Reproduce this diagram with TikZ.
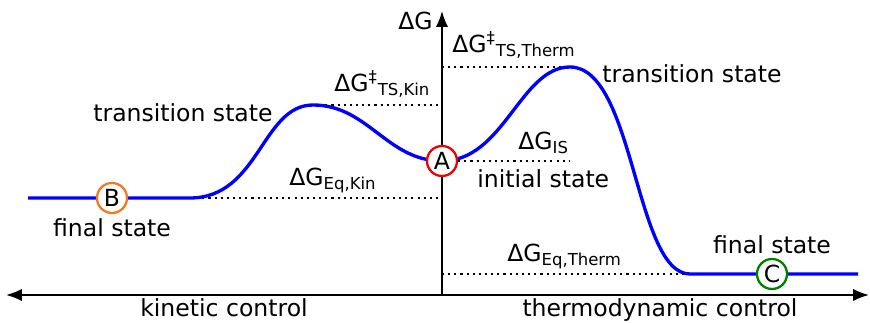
\documentclass[tikz,border=0pt]{standalone}
\usepackage{fontspec}
\setmainfont{DejaVu Sans}
\usetikzlibrary{arrows.meta}
\definecolor{stateA}{RGB}{240,0,0}
\definecolor{stateB}{RGB}{245,120,30}
\definecolor{stateC}{RGB}{0,128,0}
\tikzset{
  annot/.style={
    font=\fontsize{13.4}{16}\selectfont,
    inner sep=0pt},
  state circle/.style=
      {circle,draw=#1,line width=1.3pt,fill=white,minimum size=0.6cm,inner sep=0pt,
       font=\fontsize{13.4}{16}\selectfont},
  guide/.style={line width=1.2pt, dash pattern=on 1.2pt off 2.3pt},
  energy curve/.style={draw=blue, line width=1.9pt},
  axis line/.style={line width=1.1pt},
}
\tikzset{>={Latex[length=9pt,width=7pt]}}
\newcommand{\dG}{ΔG}

\begin{document}
\begin{tikzpicture}[x=0.02cm,y=-0.02cm]
\useasboundingbox (0,0) rectangle (870,323);

\coordinate (origin) at (442,295);
\coordinate (Gtop) at (442,11);
\coordinate (kinend) at (6,295);
\coordinate (thermend) at (869,295);

\coordinate (start) at (28,198);
\coordinate (rise) at (190,198);
\coordinate (tskin) at (313,105);
\coordinate (is) at (442,161);
\coordinate (tstherm) at (570,67);
\coordinate (fall) at (690,274);
\coordinate (stop) at (858,274);

% levels
\draw[guide] (tskin) -- (tskin -| origin);
\draw[guide] (rise) -- (rise -| origin);
\draw[guide] (tstherm -| origin) -- (tstherm);
\draw[guide] (fall -| origin) -- (fall);

% axes
\draw[axis line,->] (origin) -- (Gtop);
\draw[axis line,<->] (kinend) -- (thermend);

\draw[energy curve] (start) -- (rise)
      to[out=0,in=180,out looseness=1.15,in looseness=0.85] (tskin)
      to[out=0,in=180] (is)
      to[out=0,in=180,in looseness=0.8] (tstherm)
      to[out=0,in=180,out looseness=0.69,in looseness=0.59] (fall)
      -- (stop);

\node[state circle=stateA] at (is) (A) {A};
\node[state circle=stateB] at (112,198) (B) {B};
\node[state circle=stateC] at (772,274) (C) {C};

\draw[guide] (A.east) -- (A.east -| tstherm);

\node[annot, anchor=base west] at (398,30) (Glabel) {\dG};
\node[annot, anchor=base west] at (452,53) (tsthermlabel) {\dG\textsuperscript{‡}\textsubscript{TS,Therm}};
\node[annot, anchor=base west] at (334,92) (tskinlabel) {\dG\textsuperscript{‡}\textsubscript{TS,Kin}};
\node[annot, anchor=base west] at (518,150) (islabel) {\dG\textsubscript{IS}};
\node[annot, anchor=base west] at (477,188) (initial) {initial state};
\node[annot, anchor=base west] at (289,186) (eqkinlabel) {\dG\textsubscript{Eq,Kin}};
\node[annot, anchor=base west] at (507,262) (eqthermlabel) {\dG\textsubscript{Eq,Therm}};
\node[annot, anchor=base west] at (93,122) (tskintext) {transition state};
\node[annot, anchor=base west] at (602,83) (tsthermtext) {transition state};
\node[annot, anchor=base] at (112,237) (finalB) {final state};
\node[annot, anchor=base] at (772,254) (finalC) {final state};
\node[annot, anchor=base] at (224,317) (kinetic) {kinetic control};
\node[annot, anchor=base] at (660,317) (thermo) {thermodynamic control};
\end{tikzpicture}
\end{document}
